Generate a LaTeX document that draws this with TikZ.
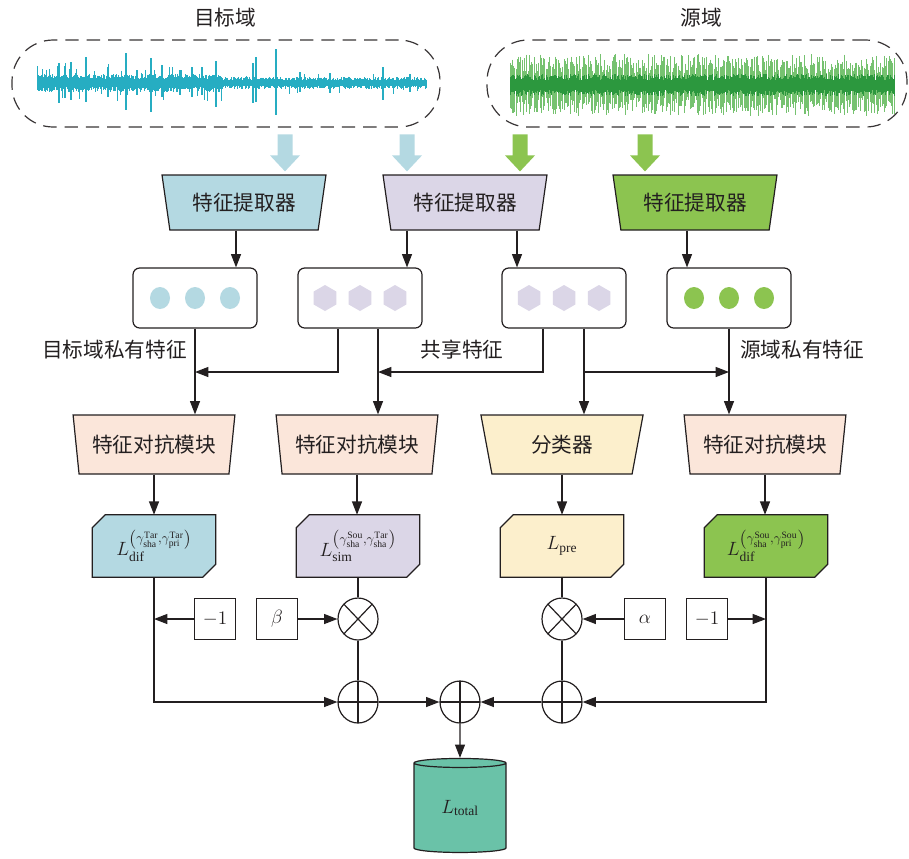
\documentclass[tikz,border=0pt]{standalone}
\usepackage{amsmath}
\usepackage{fontspec}
\setmainfont{Liberation Serif}
\newfontfamily\cjk{Noto Sans CJK SC}
\usetikzlibrary{shapes.geometric,arrows.meta,calc,backgrounds}

\definecolor{ink}{RGB}{35,31,32}
\definecolor{tarblue}{RGB}{180,217,226}
\definecolor{shalav}{RGB}{219,214,231}
\definecolor{srcgreen}{RGB}{140,196,80}
\definecolor{advpeach}{RGB}{251,230,218}
\definecolor{clscream}{RGB}{252,239,204}
\definecolor{totalteal}{RGB}{106,194,168}
\definecolor{tarwave}{RGB}{38,173,194}
\definecolor{srcdark}{RGB}{44,152,62}
\definecolor{srclight}{RGB}{118,194,112}

\tikzset{
	cn/.style={font=\cjk\fontsize{15.5pt}{18pt}\selectfont, text=ink, inner sep=0pt},
	mathtxt/.style={font=\fontsize{14.5pt}{17pt}\selectfont, text=ink, inner sep=0pt},
	sigframe/.style={draw=ink!90, line width=0.9pt, dash pattern=on 10pt off 6pt, rounded corners=31pt, minimum height=65.25pt},
	extractor/.style={cn, trapezium, trapezium angle=74, trapezium stretches=true, shape border rotate=180, draw=ink, line width=0.9pt, minimum width=123.75pt, minimum height=41.25pt},
	module/.style={extractor, trapezium angle=75.7, minimum width=122.25pt, minimum height=44.25pt},
	featbox/.style={draw=ink, line width=0.9pt, rounded corners=5pt, fill=white, minimum width=93pt, minimum height=45pt},
	tardot/.style={ellipse, fill=tarblue, minimum width=15pt, minimum height=16.5pt, inner sep=0pt},
	srcdot/.style={tardot, fill=srcgreen},
	shadot/.style={regular polygon, regular polygon sides=6, shape border rotate=30, fill=shalav, minimum size=19.5pt, inner sep=0pt},
	lossbox/.style={mathtxt, minimum width=92.25pt, minimum height=46.5pt},
	chamfer/.style={draw=ink, line width=0.9pt},
	smallbox/.style={draw=ink, line width=0.9pt, minimum size=30.75pt, inner sep=0pt, font=\fontsize{15pt}{18pt}\selectfont, text=ink},
	mult/.style={ellipse, draw=ink, line width=0.9pt, minimum width=30pt, minimum height=31.5pt, inner sep=0pt,
		path picture={\draw[ink, line width=0.9pt] (path picture bounding box.north west) -- (path picture bounding box.south east) (path picture bounding box.north east) -- (path picture bounding box.south west);}},
	plus/.style={mult, path picture={\draw[ink, line width=0.9pt] (path picture bounding box.north) -- (path picture bounding box.south) (path picture bounding box.west) -- (path picture bounding box.east);}},
	store/.style={mathtxt, cylinder, shape border rotate=90, aspect=0.24, draw=ink, line width=0.9pt, fill=totalteal, minimum width=69pt, minimum height=70.5pt},
	arr/.style={draw=ink, line width=0.9pt, -{Triangle[length=10pt,width=7.5pt]}},
	wire/.style={draw=ink, line width=0.9pt},
}

\begin{document}
\begin{tikzpicture}[x=0.75pt,y=0.75pt,yscale=-1,xscale=1]
	\useasboundingbox (0,0) rectangle (909,858);
	
	% Text Node
	\node[cn] (tarlabel) at (225,18) {目标域};
	\node[cn] (srclabel) at (701,18) {源域};
	
	%Shape: Rounded Rectangle
	\node[sigframe, minimum width=321pt] (tarframe) at (226,83.5) {};
	\node[sigframe, minimum width=315pt] (srcframe) at (697,83.5) {};
	
	% target domain vibration signal
	\pgfmathsetseed{21}
	\foreach \x in {37,37.8,...,427}{
		\pgfmathsetmacro\up{\x<222 ? 4+5*rnd+(rnd>0.9)*12*rnd : 2.5+3.5*rnd+(rnd>0.97)*7*rnd}
		\pgfmathsetmacro\dn{\x<222 ? 4+5*rnd+(rnd>0.9)*12*rnd : 2.5+3.5*rnd+(rnd>0.97)*7*rnd}
		\draw[tarwave, line width=0.7pt] (\x,83-\up) -- (\x,83+\dn);
	}
	\foreach \x/\t/\b in {59/63/103, 65/66/98, 71/62/100, 86/57/102, 108/67/97, 126/53/110, 137/70/95, 151/58/112, 162/65/97, 180/70/95, 192/67/97, 202/67/95, 216/61/107, 253/63/103, 256/57/102, 276/49/115, 300/72/92, 330/73/93, 383/67/100, 410/74/92}
		\draw[tarwave, line width=0.9pt] (\x,\t) -- (\x,\b);
	
	% source domain vibration signal
	\foreach \x in {510,511.2,...,895}{
		\pgfmathsetmacro\up{12+19*rnd}
		\pgfmathsetmacro\dn{12+19*rnd}
		\draw[srclight, line width=0.5pt] (\x,85-\up) -- (\x,85+\dn);
	}
	\foreach \x in {510,510.8,...,895}{
		\pgfmathsetmacro\up{5+6*rnd}
		\pgfmathsetmacro\dn{5+6*rnd}
		\draw[srcdark, line width=0.7pt] (\x,85-\up) -- (\x,85+\dn);
	}
	
	% feature extractors
	\node[extractor, fill=tarblue] (ext1) at (244,202.5) {特征提取器};
	\node[extractor, fill=shalav] (ext2) at (465,202.5) {特征提取器};
	\node[extractor, fill=srcgreen] (ext3) at (695,202.5) {特征提取器};
	
	%Block Arrows
	\foreach \ax/\col/\ext in {285/tarblue/ext1, 407/tarblue/ext2, 520/srcgreen/ext2, 645/srcgreen/ext3}
		\fill[\col] (\ax,0 |- \ext.north) ++(0,-3) -- ++(-15,-16) -- ++(7.5,0) -- ++(0,-21) -- ++(15,0) -- ++(0,21) -- ++(7.5,0) -- cycle;
	
	% feature vectors
	\node[featbox] (feat1) at (195,298) {};
	\node[featbox] (feat2) at (360,298) {};
	\node[featbox] (feat3) at (564,298) {};
	\node[featbox] (feat4) at (729,298) {};
	\foreach \i/\sty in {1/tardot, 2/shadot, 3/shadot, 4/srcdot}
		\foreach \k/\dx in {a/-35, b/0, c/35}
			\node[\sty] (dot\i\k) at ([xshift=\dx*0.75pt]feat\i.center) {};
	
	\draw[arr] ([xshift=-6pt]ext1.south) -- ([xshift=-6pt]ext1.south |- feat1.north);
	\draw[arr] ([xshift=-43.5pt]ext2.south) -- ([xshift=-43.5pt]ext2.south |- feat2.north);
	\draw[arr] ([xshift=39pt]ext2.south) -- ([xshift=39pt]ext2.south |- feat3.north);
	\draw[arr] ([xshift=-6pt]ext3.south) -- ([xshift=-6pt]ext3.south |- feat4.north);
	
	% Text Node
	\node[cn, anchor=east] (tarpriv) at (187,350) {目标域私有特征};
	\node[cn] (shared) at (462,350) {共享特征};
	\node[cn, anchor=west] (srcpriv) at (740,350) {源域私有特征};
	
	% adversarial modules and classifier
	\node[module, fill=advpeach] (adv1) at (154,444.5) {特征对抗模块};
	\node[module, fill=advpeach] (adv2) at (357,444.5) {特征对抗模块};
	\node[module, fill=clscream] (cls) at (562,444.5) {分类器};
	\node[module, fill=advpeach] (adv3) at (765,444.5) {特征对抗模块};
	
	\coordinate (bus) at (0,372);
	\draw[arr] (feat1.south) -- (feat1.south |- adv1.north);
	\draw[arr] ([xshift=-16.5pt]feat2.south) |- (feat1.south |- bus);
	\draw[arr] ([xshift=13.5pt]feat2.south) -- ([xshift=13.5pt]feat2.south |- adv2.north);
	\draw[arr] ([xshift=-15.75pt]feat3.south) |- ([xshift=13.5pt]feat2.south |- bus);
	\draw[arr] ([xshift=15pt]feat3.south) -- ([xshift=15pt]feat3.south |- cls.north);
	\draw[arr] ([xshift=15pt]feat3.south |- bus) -- (feat4.south |- bus);
	\draw[arr] (feat4.south) -- (feat4.south |- adv3.north);
	
	% losses
	\node[lossbox] (ldif1) at (154,546) {$L_{\mathrm{dif}}^{\left(\gamma_{\mathrm{sha}}^{\mathrm{Tar}},\gamma_{\mathrm{pri}}^{\mathrm{Tar}}\right)}$};
	\node[lossbox] (lsim) at (358,546) {$L_{\mathrm{sim}}^{\left(\gamma_{\mathrm{sha}}^{\mathrm{Sou}},\gamma_{\mathrm{sha}}^{\mathrm{Tar}}\right)}$};
	\node[lossbox] (lpre) at (562,546) {$L_{\mathrm{pre}}$};
	\node[lossbox] (ldif2) at (766,546) {$L_{\mathrm{dif}}^{\left(\gamma_{\mathrm{sha}}^{\mathrm{Sou}},\gamma_{\mathrm{pri}}^{\mathrm{Sou}}\right)}$};
	\begin{pgfonlayer}{background}
		\foreach \l/\col in {ldif1/tarblue, lsim/shalav, lpre/clscream, ldif2/srcgreen}
			\filldraw[chamfer, fill=\col] ($(\l.north west)+(13,0)$) -- (\l.north east) -- ($(\l.south east)+(0,-13)$) -- ($(\l.south east)+(-13,0)$) -- (\l.south west) -- ($(\l.north west)+(0,13)$) -- cycle;
	\end{pgfonlayer}
	\foreach \a/\l in {adv1/ldif1, adv2/lsim, cls/lpre, adv3/ldif2}
		\draw[arr] (\a.south) -- (\a.south |- \l.north);
	
	% weights and operators
	\node[smallbox] (neg1) at (215,619) {$-1$};
	\node[smallbox] (beta) at (277,619) {$\beta$};
	\node[smallbox] (alpha) at (645,619) {$\alpha$};
	\node[smallbox] (neg2) at (707,619) {$-1$};
	\node[mult] (mul1) at (358,619) {};
	\node[mult] (mul2) at (562,619) {};
	\node[plus] (add1) at (358,702) {};
	\node[plus] (add2) at (460,702) {};
	\node[plus] (add3) at (562,702) {};
	\node[store] (total) at (460,808) {$L_{\mathrm{total}}$};
	
	\draw[arr] (ldif1.south) |- (add1.west);
	\draw[arr] (neg1.west) -- (neg1.west -| ldif1.south);
	\draw[arr] (beta.east) -- (mul1.west);
	\draw[wire] (lsim.south) -- (mul1.north) (mul1.south) -- (add1.north);
	\draw[wire] (lpre.south) -- (mul2.north) (mul2.south) -- (add3.north);
	\draw[arr] (alpha.west) -- (mul2.east);
	\draw[arr] (neg2.east) -- (neg2.east -| ldif2.south);
	\draw[arr] (ldif2.south) |- (add3.east);
	\draw[arr] (add1.east) -- (add2.west);
	\draw[arr] (add3.west) -- (add2.east);
	\draw[arr] (add2.south) -- (total.north);
\end{tikzpicture}
\end{document}
